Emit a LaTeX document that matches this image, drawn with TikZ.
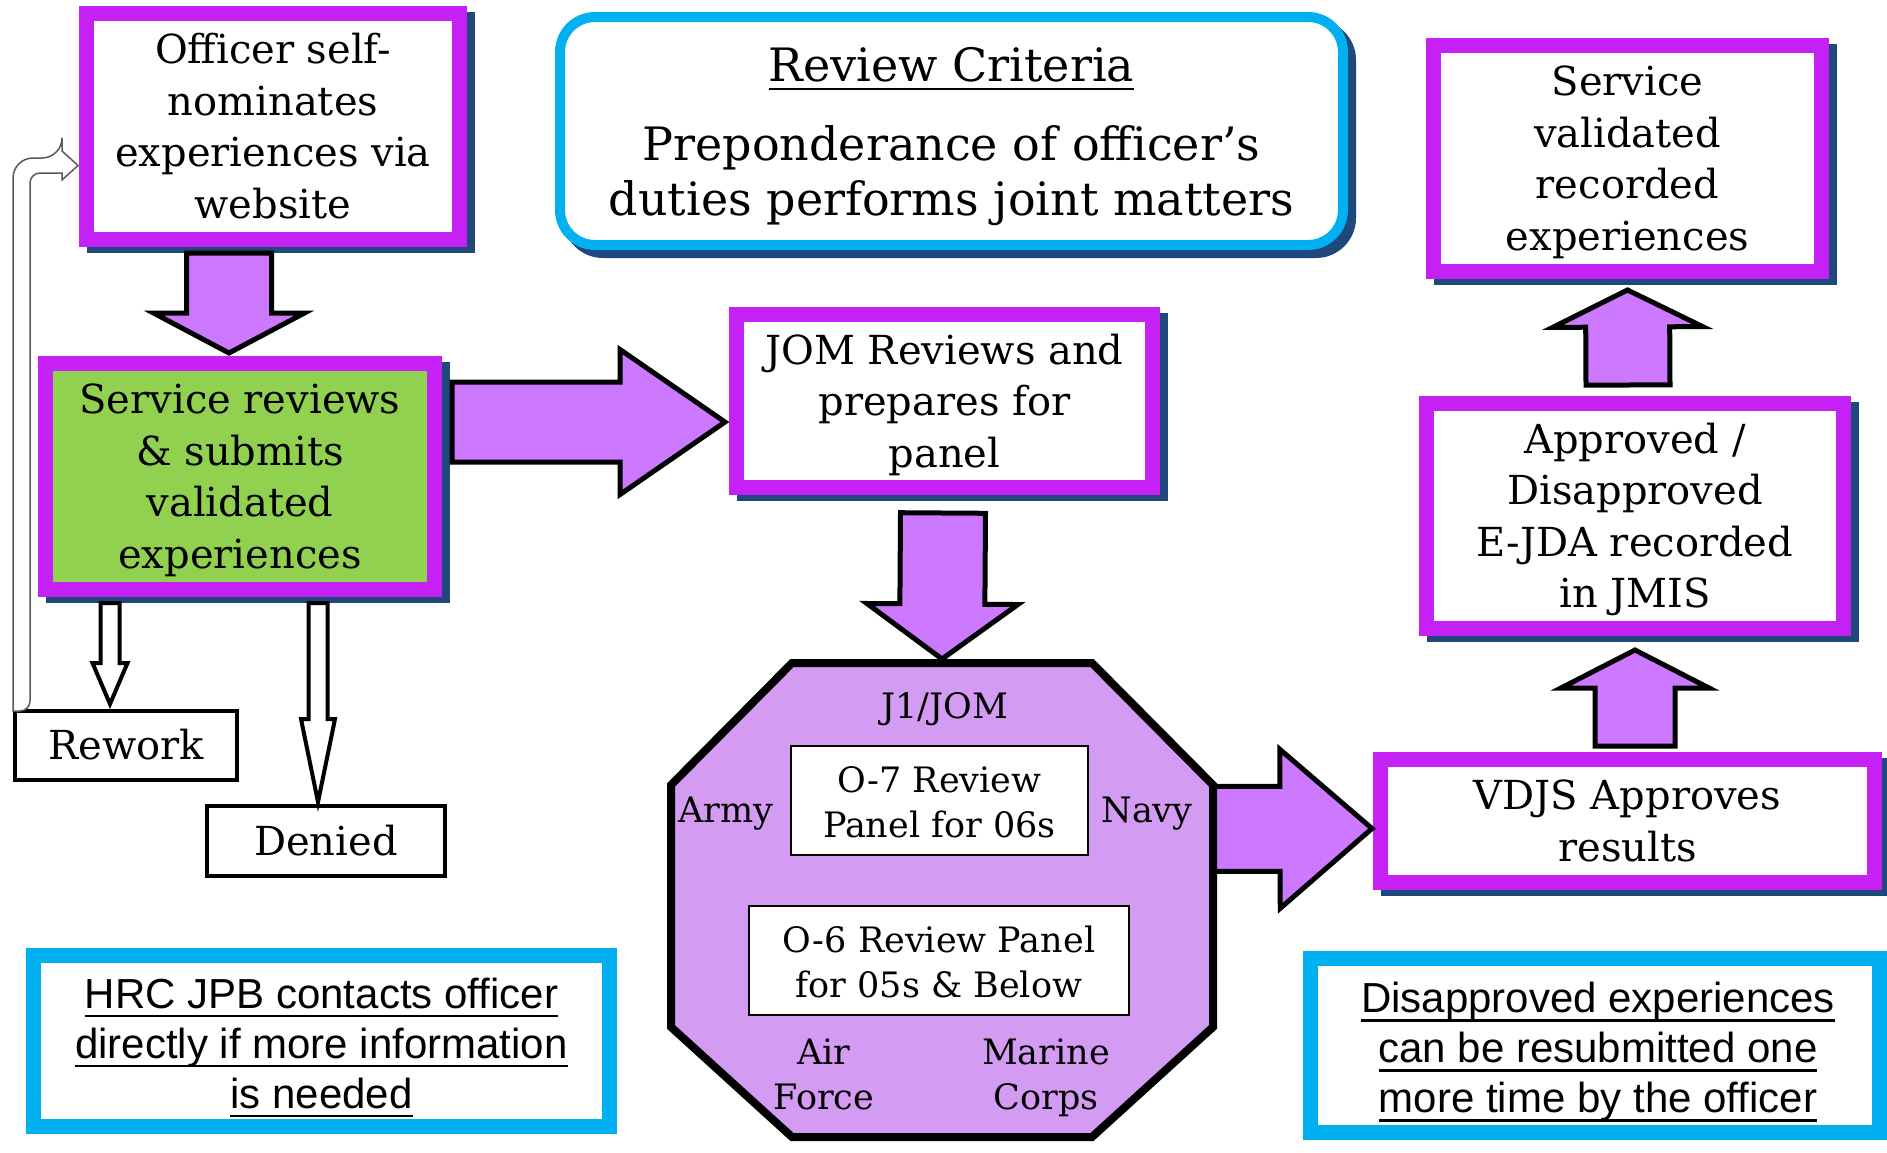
\documentclass[tikz,border=0pt]{standalone}
\usepackage{fontspec}
\setmainfont{DejaVu Serif}
\newfontfamily\arialf{Liberation Sans}
\usetikzlibrary{calc}
\definecolor{mag}{HTML}{C621F4}
\definecolor{arrfill}{HTML}{CD79FF}
\definecolor{octfill}{HTML}{D39BF1}
\definecolor{grn}{HTML}{92D050}
\definecolor{cyanb}{HTML}{00B0F0}
\definecolor{shade}{HTML}{1F497D}
\newsavebox\ulbox
\newcommand\ulin[1]{\sbox\ulbox{#1}\leavevmode\rlap{\rule[-9pt]{\wd\ulbox}{2.5pt}}\usebox\ulbox}
\newcommand\boxfont{\fontsize{40pt}{51.5pt}\selectfont}
\newcommand\critfont{\fontsize{46pt}{55pt}\selectfont}
\newcommand\octfont{\fontsize{35pt}{45pt}\selectfont}
\newcommand\notefont{\arialf\fontsize{42pt}{50pt}\selectfont}
\newcommand\blockarr[6][]{%
  \coordinate (bac) at ($(#3)!#6!(#2)$);
  \draw[#1] ($(#2)!#4!90:(#3)$) -- ($(bac)!#4!-90:(#2)$) -- ($(bac)!#5!-90:(#2)$) -- (#3)
    -- ($(bac)!#5!90:(#2)$) -- ($(bac)!#4!90:(#2)$) -- ($(#2)!#4!-90:(#3)$) -- cycle;}
\tikzset{
  every node/.style={outer sep=0pt},
  vstrut/.style 2 args={execute at begin node={\rule{0pt}{#1}}, execute at end node={\rule[-#2]{0pt}{#2}}},
  mbox/.style={draw=mag, line width=15pt, fill=white, inner sep=0pt,
    preaction={draw=shade, fill=shade, line width=15pt, transform canvas={shift={(8pt,-6pt)}}}},
  btext/.style={inner sep=0pt, align=center, font=\boxfont, vstrut={41pt}{13pt}},
  wbox/.style={draw=black, line width=4pt, fill=white, inner sep=0pt, font=\boxfont, vstrut={41pt}{13pt}},
  note/.style={draw=cyanb, line width=15pt, fill=white, inner sep=0pt},
  ntext/.style={inner sep=0pt, align=center, font=\notefont, vstrut={40pt}{12pt}},
  crit/.style={draw=cyanb, line width=10pt, fill=white, rounded corners=35pt, inner sep=0pt,
    preaction={draw=shade, fill=shade, line width=10pt, transform canvas={shift={(8pt,-8pt)}}}},
  ctext/.style={inner sep=0pt, align=center, font=\critfont, vstrut={48pt}{16pt}},
  obox/.style={draw=black, line width=2.5pt, fill=white, inner sep=0pt},
  otext/.style={inner sep=0pt, align=center, font=\octfont},
  barr/.style={draw=black, fill=arrfill, line width=5pt, line join=miter},
  harr/.style={draw=black, fill=white, line width=4pt, line join=miter},
  loopst/.style={draw=black!65, fill=white, line width=1.5pt},
  octst/.style={draw=black, fill=octfill, line width=8pt, line join=miter},
}
\begin{document}
\begin{tikzpicture}[x=1pt,y=-1pt]
\fill[white] (0,0) rectangle (1887,1152);
\useasboundingbox (0,0) rectangle (1887,1152);

% boxes
\node[mbox, minimum width=373pt, minimum height=226pt] (b1) at (273,126.5) {};
\node[btext] (b1t) at ([yshift=-6pt]b1.center) {Officer self-\\nominates\\experiences via\\website};
\node[mbox, fill=grn, minimum width=389pt, minimum height=226pt] (b2) at (240,476.5) {};
\node[btext] (b2t) at ([yshift=-6pt]b2.center) {Service reviews\\\& submits\\validated\\experiences};
\node[mbox, minimum width=416pt, minimum height=173pt] (jom) at (944.5,401) {};
\node[btext] (jomt) at ([yshift=-6pt]jom.center) {JOM Reviews and\\prepares for\\panel};
\node[mbox, minimum width=388pt, minimum height=226pt] (sv) at (1627.5,158.5) {};
\node[btext] (svt) at ([yshift=-6pt]sv.center) {Service\\validated\\recorded\\experiences};
\node[mbox, minimum width=417pt, minimum height=225pt] (app) at (1635,516) {};
\node[btext] (appt) at ([yshift=-6pt]app.center) {Approved /\\Disapproved\\E-JDA recorded\\in JMIS};
\node[mbox, minimum width=494pt, minimum height=123pt] (vdjs) at (1627.5,821) {};
\node[btext] (vdjst) at ([yshift=-6pt]vdjs.center) {VDJS Approves\\results};
\node[wbox, minimum width=222pt, minimum height=69pt] (rw) at (126,745.5) {Rework};
\node[wbox, minimum width=238pt, minimum height=70pt] (dn) at (326,841) {Denied};
\node[crit, minimum width=783pt, minimum height=228pt] (crit) at (951.5,131) {};
\node[ctext] (critt) at ([yshift=-8pt]crit.center) {\ulin{Review Criteria}\\[24pt]Preponderance of officer’s\\duties performs joint matters};
\node[note, minimum width=576pt, minimum height=171pt] (hrc) at (321.5,1041) {};
\node[ntext] (hrct) at ([yshift=-8pt]hrc.center) {\ulin{HRC JPB contacts officer}\\\ulin{directly if more information}\\\ulin{is needed}};
\node[note, minimum width=569.5pt, minimum height=174pt] (dis) at (1595,1045.5) {};
\node[ntext] (dist) at ([xshift=3pt,yshift=-8pt]dis.center) {\ulin{Disapproved experiences}\\\ulin{can be resubmitted one}\\\ulin{more time by the officer}};

% loop arrow from Rework back to officer box
\coordinate (lb) at ([xshift=6.5pt]rw.north west);
\coordinate (lt) at ([xshift=-8.5pt,yshift=-39pt]b1.west);
\draw[loopst] let \p1=(lb), \p2=(lt) in
  (\x1-8.5pt,\y1) [rounded corners=20pt] -- (\x1-8.5pt,\y2+7.5pt) -- (\x2-16pt,\y2+7.5pt)
  [sharp corners] -- (\x2-16pt,\y2+14.5pt) -- (\p2) -- (\x2-16pt,\y2-14.5pt) -- (\x2-16pt,\y2-7.5pt)
  [rounded corners=10pt] -- (\x1+8.5pt,\y2-7.5pt) -- (\x1+8.5pt,\y1) [sharp corners] -- cycle;

% arrow end points
\coordinate (a1s) at ([xshift=-44pt,yshift=-13.5pt]b1.south);
\coordinate (a1e) at ([xshift=-11pt,yshift=10.5pt]b2.north);
\coordinate (a2s) at ([xshift=17.5pt,yshift=54.5pt]b2.east);
\coordinate (a2e) at ([xshift=-11.5pt,yshift=-21pt]jom.west);
\coordinate (a5s) at ([xshift=7.5pt,yshift=13.5pt]vdjs.north);
\coordinate (a5e) at ([yshift=-21.5pt]app.south);
\coordinate (a6s) at ([xshift=-7pt,yshift=18.5pt]app.north);
\coordinate (a6e) at ([yshift=-18.5pt]sv.south);
\coordinate (a7s) at ([xshift=-130pt,yshift=-13.5pt]b2.south);
\coordinate (a7e) at ([xshift=-16pt,yshift=7pt]rw.north);
\coordinate (a8s) at ([xshift=78pt,yshift=-13.5pt]b2.south);
\coordinate (a8e) at ([xshift=-8pt,yshift=4pt]dn.north);

\blockarr[barr]{a1s}{a1e}{42.5pt}{75.5pt}{40pt}
\blockarr[barr]{a2s}{a2e}{40pt}{72.5pt}{105pt}
\blockarr[barr]{a5s}{a5e}{40pt}{74pt}{38pt}
\blockarr[barr]{a6s}{a6e}{42pt}{75pt}{37pt}
\blockarr[harr]{a7s}{a7e}{9.5pt}{17.5pt}{41pt}
\blockarr[harr]{a8s}{a8e}{9.5pt}{17pt}{83pt}

% octagon
\node[minimum width=542pt, minimum height=474pt, inner sep=0pt] (oct) at (942,900) {};
\coordinate (a4s) at ([xshift=-6pt,yshift=71pt]oct.east);
\coordinate (a4e) at ([xshift=-8.5pt,yshift=-7.5pt]vdjs.west);
\blockarr[barr]{a4s}{a4e}{42.5pt}{79.5pt}{92pt}
\draw[octst] ([xshift=121pt]oct.north west) -- ([xshift=-121pt]oct.north east)
  -- ([yshift=-122pt]oct.north east) -- ([yshift=110pt]oct.south east)
  -- ([xshift=-121pt]oct.south east) -- ([xshift=121pt]oct.south west)
  -- ([yshift=110pt]oct.south west) -- ([yshift=-122pt]oct.north west) -- cycle;
\coordinate (a3s) at ([xshift=-1.5pt,yshift=-25.5pt]jom.south);
\coordinate (a3e) at ([yshift=4pt]oct.north);
\blockarr[barr]{a3s}{a3e}{42.5pt}{75.5pt}{55pt}

\node[otext, anchor=base] (j1) at (945,718) {J1/JOM};
\node[obox, minimum width=297pt, minimum height=109pt] (o7) at (939.5,800.5) {};
\node[otext, vstrut={36pt}{12pt}] (o7t) at ([yshift=-7pt]o7.center) {O-7 Review\\Panel for 06s};
\node[obox, minimum width=380pt, minimum height=109pt] (o6) at (939,960.5) {};
\node[otext, vstrut={36pt}{12pt}] (o6t) at ([yshift=-7pt]o6.center) {O-6 Review Panel\\for 05s \& Below};
\node[otext, anchor=base] (army) at (725.5,822) {Army};
\node[otext, anchor=base] (navy) at (1147,822) {Navy};
\node[otext, vstrut={36pt}{12pt}] (af) at (824,1080.5) {Air\\Force};
\node[otext, vstrut={36pt}{12pt}] (mc) at (1046,1080.5) {Marine\\Corps};
\end{tikzpicture}
\end{document}
